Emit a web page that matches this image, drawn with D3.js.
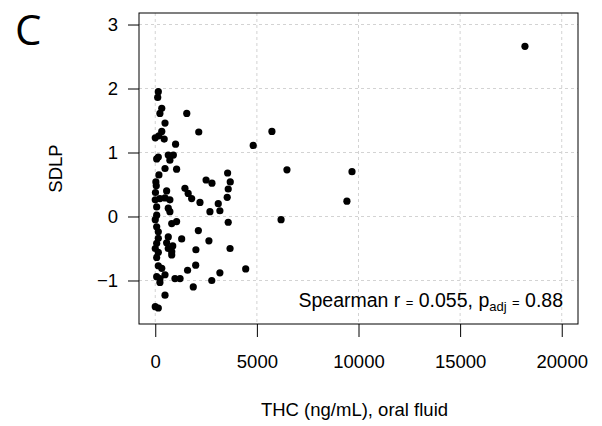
<!DOCTYPE html>
<html>
<head>
<meta charset="utf-8">
<script src="https://cdn.jsdelivr.net/npm/d3@7"></script>
<style>
  body { margin: 0; background: #fff; }
  svg { display: block; }
</style>
</head>
<body>
<div id="chart"></div>
<script>
// THC in oral fluid (ng/mL) vs SDLP
const thc = [150, 120, 320, 230, 480, 320, 180, 0, 440, 70, 150, 30, 180, 50, 0, 230, 480, 70, 70, 0,
  70, 150, 150, 70, 0, 150, 70, 150, 320, 70, 230, 480, 230, 480, 0, 150, 10, 640, 890, 720,
  480, 1050, 1550, 1000, 2140, 4820, 5740, 3560, 2500, 2790, 3690, 560, 1460, 1620, 1790, 3590, 3540, 720, 2200, 3100,
  640, 720, 2690, 3180, 1050, 810, 3590, 2120, 640, 1300, 2640, 560, 860, 3680, 2000, 640, 810, 810, 1990, 4450,
  1590, 3180, 970, 1220, 2780, 1870, 6480, 9680, 9430, 6190, 18190];
const sdlp = [1.95, 1.86, 1.69, 1.61, 1.46, 1.33, 1.26, 1.23, 1.21, 0.90, 0.93, 0.54, 0.65, 0.48, 0.26, 0.28, 0.29, 0.15, 0.02, -0.05,
  -0.16, -0.24, -0.34, -0.42, -0.50, -0.56, -0.64, -0.77, -0.81, -0.94, -0.97, -0.91, -1.03, -1.23, -1.41, -1.43, 0.375, 0.96, 0.96, 0.88,
  0.75, 0.74, 1.61, 1.13, 1.32, 1.11, 1.33, 0.68, 0.57, 0.52, 0.54, 0.40, 0.44, 0.36, 0.28, 0.43, 0.30, 0.26, 0.22, 0.20,
  0.13, 0.075, 0.075, 0.09, -0.08, -0.11, -0.09, -0.22, -0.32, -0.35, -0.38, -0.41, -0.46, -0.50, -0.52, -0.50, -0.55, -0.60, -0.76, -0.82,
  -0.84, -0.88, -0.97, -0.97, -1.00, -1.10, 0.73, 0.70, 0.24, -0.05, 2.66];

const xTicks = [0, 5000, 10000, 15000, 20000];
const yTicks = [-1, 0, 1, 2, 3];

const width = 602, height = 426;
const box = { left: 139, right: 578, top: 13, bottom: 324 };
const font = "'Liberation Sans', Arial, sans-serif";
const fs = 18.5;

const svg = d3.select("#chart").append("svg")
    .attr("width", width)
    .attr("height", height);

// R-style 4% padding around xlim = (0, 20000), ylim = (-1.5, 3)
const x = d3.scaleLinear().domain([-800, 20800]).range([box.left, box.right]);
const y = d3.scaleLinear().domain([-1.68, 3.18]).range([box.bottom, box.top]);

// Grid
const grid = svg.append("g").attr("stroke", "#d3d3d3").attr("stroke-width", 1).attr("stroke-dasharray", "3,3");
grid.selectAll("line.v").data(xTicks).enter().append("line")
    .attr("x1", d => x(d)).attr("x2", d => x(d))
    .attr("y1", box.top).attr("y2", box.bottom);
grid.selectAll("line.h").data(yTicks).enter().append("line")
    .attr("y1", d => y(d)).attr("y2", d => y(d))
    .attr("x1", box.left).attr("x2", box.right);

// Points
svg.append("g").selectAll("circle").data(thc).enter().append("circle")
    .attr("cx", d => x(d))
    .attr("cy", (d, i) => y(sdlp[i]))
    .attr("r", 3.6)
    .attr("fill", "#000");

// Axes
const xAxis = svg.append("g")
    .attr("transform", `translate(0,${box.bottom})`)
    .call(d3.axisBottom(x).tickValues(xTicks).tickSize(13).tickPadding(18).tickFormat(d3.format("d")));
const yAxis = svg.append("g")
    .attr("transform", `translate(${box.left},0)`)
    .call(d3.axisLeft(y).tickValues(yTicks).tickSize(11).tickPadding(10).tickFormat(d => d < 0 ? "\u2212" + Math.abs(d) : d));
[xAxis, yAxis].forEach(a => {
    a.select(".domain").remove();
    a.selectAll(".tick line").attr("stroke", "#000");
    a.selectAll(".tick text").attr("fill", "#000").attr("font-family", font).attr("font-size", fs);
});

// Plot box
svg.append("rect")
    .attr("x", box.left).attr("y", box.top)
    .attr("width", box.right - box.left).attr("height", box.bottom - box.top)
    .attr("fill", "none").attr("stroke", "#000").attr("stroke-width", 1);

// Axis titles
svg.append("text")
    .attr("x", (box.left + box.right) / 2 - 4).attr("y", 416)
    .attr("text-anchor", "middle")
    .attr("font-family", font).attr("font-size", fs)
    .text("THC (ng/mL), oral fluid");
svg.append("text")
    .attr("transform", `translate(62,${(box.top + box.bottom) / 2}) rotate(-90)`)
    .attr("text-anchor", "middle")
    .attr("font-family", font).attr("font-size", fs)
    .text("SDLP");

// Panel letter
svg.append("text")
    .attr("x", 15).attr("y", 45)
    .attr("font-family", "'Open Sans', sans-serif").attr("font-size", 42)
    .text("C");

// Correlation note (plotmath-like: small "=" signs)
const note = svg.append("text")
    .attr("x", 563).attr("y", 307)
    .attr("text-anchor", "end")
    .attr("font-family", font).attr("font-size", 19.5)
    .attr("xml:space", "preserve");
note.append("tspan").text("Spearman r ");
note.append("tspan").attr("font-size", 13).text("=");
note.append("tspan").text(" 0.055, p");
note.append("tspan").attr("font-size", 13).attr("dy", 4).text("adj");
note.append("tspan").attr("dy", -4).text(" ");
note.append("tspan").attr("font-size", 13).text("=");
note.append("tspan").text(" 0.88");
</script>
</body>
</html>
